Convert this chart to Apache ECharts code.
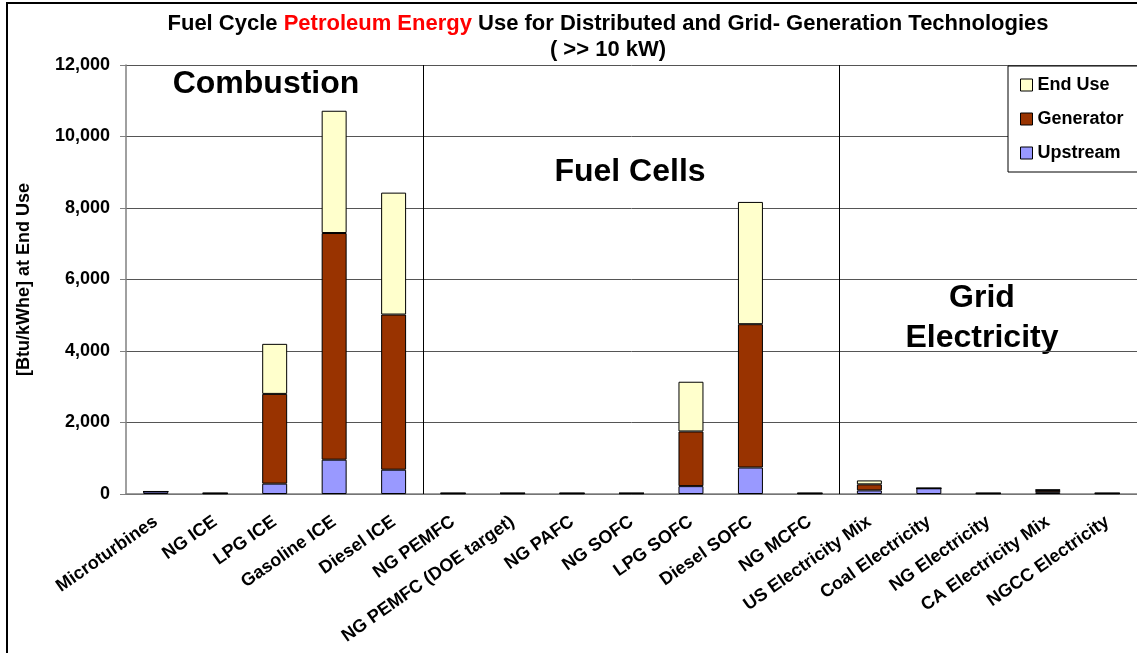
<!DOCTYPE html>
<html>
<head>
    <meta charset="utf-8">
    <title>Fuel Cycle Petroleum Energy Use</title>
    <script src="https://cdn.jsdelivr.net/npm/echarts@6/dist/echarts.min.js"></script>
    <style>
        html, body { margin: 0; padding: 0; background: #fff; }
        #main { width: 1137px; height: 653px; }
    </style>
</head>
<body>
<div id="main"></div>
<script type="text/javascript">
// 数据
var categories = ['Microturbines', 'NG ICE', 'LPG ICE', 'Gasoline ICE', 'Diesel ICE',
    'NG PEMFC', 'NG PEMFC (DOE target)', 'NG PAFC', 'NG SOFC', 'LPG SOFC', 'Diesel SOFC',
    'NG MCFC', 'US Electricity Mix', 'Coal Electricity', 'NG Electricity',
    'CA Electricity Mix', 'NGCC Electricity'];
var upstream  = [70, 20, 290, 960, 680, 20, 20, 20, 20, 220, 740, 20, 100, 160, 20, 50, 20];
var generator = [0, 0, 2510, 6340, 4340, 0, 0, 0, 0, 1530, 4010, 0, 170, 0, 0, 60, 0];
var endUse    = [0, 0, 1400, 3420, 3410, 0, 0, 0, 0, 1390, 3420, 0, 110, 0, 0, 10, 0];
var yTicks = [0, 2000, 4000, 6000, 8000, 10000, 12000];
var groupBounds = [5, 12];   // 分组分隔线（类目边界）

var myChart = echarts.init(document.getElementById('main'));
var font = 'Liberation Sans, Arial, sans-serif';

function fmt(v) {
    return String(v).replace(/\B(?=(\d{3})+(?!\d))/g, ',');
}

function barSeries(name, data, color) {
    return {
        name: name,
        type: 'bar',
        stack: 'total',
        data: data,
        barWidth: '42%',
        itemStyle: { color: color, borderColor: '#000', borderWidth: 1 }
    };
}

var option = {
    animation: false,
    textStyle: { fontFamily: font },
    title: {
        text: '{a|Fuel Cycle }{r|Petroleum Energy}{a| Use for Distributed and Grid- Generation Technologies}\n{a|( >> 10 kW)}',
        left: 603,
        top: 6,
        textAlign: 'center',
        textStyle: {
            rich: {
                a: { fontSize: 22, fontWeight: 'bold', color: '#000', fontFamily: font, lineHeight: 26, align: 'center' },
                r: { fontSize: 22, fontWeight: 'bold', color: '#ff0000', fontFamily: font, lineHeight: 26 }
            }
        }
    },
    legend: {
        orient: 'vertical',
        left: 1008,
        top: 66,
        padding: [9, 40, 9, 12],
        itemGap: 14,
        itemWidth: 12,
        itemHeight: 12,
        icon: 'rect',
        backgroundColor: '#fff',
        borderColor: '#000',
        borderWidth: 1,
        borderRadius: 0,
        data: ['End Use', 'Generator', 'Upstream'],
        itemStyle: { borderColor: '#000', borderWidth: 1 },
        textStyle: { fontSize: 18, fontWeight: 'bold', color: '#000', lineHeight: 20, fontFamily: font }
    },
    grid: { left: 126, right: 0, top: 65, bottom: 159, outerBoundsMode: 'none' },
    xAxis: [{
        type: 'category',
        data: categories,
        axisLine: { lineStyle: { color: '#808080', width: 1.5 } },
        axisTick: { length: 6, lineStyle: { color: '#808080' } },
        axisLabel: {
            interval: 0,
            rotate: 35,
            margin: 26,
            fontSize: 18,
            fontWeight: 'bold',
            color: '#000'
        }
    }, {
        type: 'value',
        min: 0,
        max: categories.length,
        show: false
    }],
    yAxis: {
        type: 'value',
        min: yTicks[0],
        max: yTicks[yTicks.length - 1],
        interval: 2000,
        name: '[Btu/kWhe] at End Use',
        nameLocation: 'middle',
        nameGap: 93,
        nameTextStyle: { fontSize: 18, fontWeight: 'bold', color: '#000' },
        axisLine: { show: true, lineStyle: { color: '#808080', width: 1.5 } },
        axisTick: { show: true, length: 6, lineStyle: { color: '#808080' } },
        axisLabel: { margin: 16, fontSize: 18, fontWeight: 'bold', color: '#000', formatter: fmt },
        splitLine: { lineStyle: { color: '#555', width: 1 } }
    },
    series: [
        barSeries('Upstream', upstream, '#9999ff'),
        barSeries('Generator', generator, '#993300'),
        barSeries('End Use', endUse, '#ffffcc'),
        {
            type: 'line',
            xAxisIndex: 1,
            data: [],
            silent: true,
            markLine: {
                silent: true,
                symbol: 'none',
                label: { show: false },
                lineStyle: { color: '#000', type: 'solid', width: 1 },
                data: groupBounds.map(function (b) { return { xAxis: b }; })
            }
        }
    ],
    graphic: [
        { type: 'rect', shape: { x: 7, y: 3, width: 1145, height: 670 },
          style: { fill: 'none', stroke: '#000', lineWidth: 2 }, silent: true },
        { type: 'text', x: 266, y: 84, style: { text: 'Combustion', fill: '#000',
          font: 'bold 32px ' + font, textAlign: 'center', textVerticalAlign: 'middle' } },
        { type: 'text', x: 630, y: 172, style: { text: 'Fuel Cells', fill: '#000',
          font: 'bold 32px ' + font, textAlign: 'center', textVerticalAlign: 'middle' } },
        { type: 'text', x: 982, y: 318, style: { text: 'Grid\nElectricity', fill: '#000',
          font: 'bold 32px ' + font, textAlign: 'center', textVerticalAlign: 'middle', lineHeight: 40 } }
    ]
};

myChart.setOption(option);
</script>
</body>
</html>
